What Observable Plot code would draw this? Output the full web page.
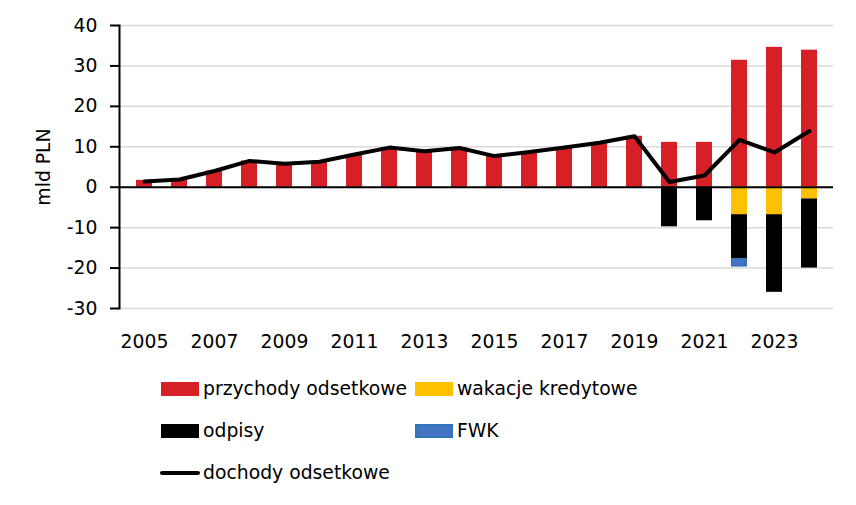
<!DOCTYPE html>
<html><head><meta charset="utf-8">
<script src="https://cdn.jsdelivr.net/npm/d3@7"></script>
<script src="https://cdn.jsdelivr.net/npm/@observablehq/plot@0.6"></script>
<style>
body{margin:0;background:#fff;font-family:"DejaVu Sans",sans-serif;}
#wrap{position:relative;width:856px;height:505px;}
.lg{position:absolute;display:flex;align-items:center;font-size:18.8px;color:#000;white-space:nowrap;}
.sw{width:38px;height:14px;margin-right:4px;box-sizing:border-box;}
.ln{width:40px;height:4px;background:#000;border-radius:2px;margin-right:3px;}
</style></head>
<body><div id="wrap"><div id="chart"></div>
<div class="lg" style="left:161px;top:378px;"><div class="sw" style="background:#d71f26"></div>przychody odsetkowe</div>
<div class="lg" style="left:415px;top:378px;"><div class="sw" style="background:#ffc000"></div>wakacje kredytowe</div>
<div class="lg" style="left:161px;top:420px;"><div class="sw" style="background:#000"></div>odpisy</div>
<div class="lg" style="left:415px;top:420px;"><div class="sw" style="background:#4472c4;border:2px solid #2e75b6"></div>FWK</div>
<div class="lg" style="left:160px;top:462px;"><div class="ln"></div>dochody odsetkowe</div>
</div>
<script>
const years = [2005,2006,2007,2008,2009,2010,2011,2012,2013,2014,2015,2016,2017,2018,2019,2020,2021,2022,2023,2024];
const przychody = [1.7,2.0,4.0,6.5,5.8,6.3,8.1,9.8,8.9,9.7,7.7,8.7,9.8,11.0,12.6,11.1,11.1,31.4,34.6,33.9];
const wakacje = [0,0,0,0,0,0,0,0,0,0,0,0,0,0,0,0,0,-6.8,-6.8,-2.9];
const odpisy = [0,0,0,0,0,0,0,0,0,0,0,0,0,0,0,-9.8,-8.3,-10.9,-19.2,-17.1];
const fwk = [0,0,0,0,0,0,0,0,0,0,0,0,0,0,0,0,0,-2.0,0,0];
const dochody = [1.4,1.9,4.0,6.5,5.8,6.3,8.1,9.8,8.9,9.7,7.7,8.7,9.8,11.0,12.6,1.3,2.9,11.7,8.6,13.9];
const yTicks = [-30,-20,-10,0,10,20,30,40];
const xTicks = years.filter(y => y % 2 === 1);

const seriesNames = ["przychody odsetkowe","wakacje kredytowe","odpisy","FWK"];
const seriesColors = ["#d71f26","#ffc000","#000000","#4472c4"];
const seriesValues = [przychody, wakacje, odpisy, fwk];
const rows = [];
seriesNames.forEach((s, si) => years.forEach((yr, i) => {
  if (seriesValues[si][i] !== 0) rows.push({year: yr, value: seriesValues[si][i], series: s});
}));
const stackOpts = {x: "year", y: "value", z: "series", order: seriesNames};

const chart = Plot.plot({
  width: 856, height: 360,
  marginLeft: 119, marginRight: 23, marginTop: 25, marginBottom: 52,
  style: {fontFamily: "DejaVu Sans, sans-serif", fontSize: "18.8px", color: "#000", background: "#fff"},
  x: {type: "band", domain: years, paddingInner: 0.55, paddingOuter: 0.275},
  y: {domain: [-30, 40]},
  color: {domain: seriesNames, range: seriesColors},
  marks: [
    Plot.gridY(yTicks, {stroke: "#d9d9d9", strokeOpacity: 1, strokeWidth: 1.5}),
    Plot.barY(rows, Plot.stackY({...stackOpts, fill: "series"})),
    Plot.barY(rows, Plot.filter(d => d.series === "FWK", Plot.stackY({...stackOpts, fill: "none", stroke: "#2e75b6", strokeWidth: 1.5, inset: 0.75}))),
    Plot.ruleY([0], {stroke: "#000", strokeWidth: 2}),
    Plot.lineY(years, {x: years, y: dochody, stroke: "#000", strokeWidth: 4, strokeLinejoin: "round", strokeLinecap: "round"}),
    Plot.axisY(yTicks, {tickSize: 9, tickPadding: 13, tickFormat: d => String(d), stroke: "#000", strokeWidth: 2, strokeOpacity: 1, label: null, fontSize: "18.8px"}),
    Plot.frame({anchor: "left", stroke: "#000", strokeWidth: 2}),
    Plot.axisX(xTicks, {tickSize: 0, tickPadding: 26, tickFormat: d => String(d), label: null, fontSize: "18.8px"}),
    Plot.text(["mld PLN"], {frameAnchor: "left", dx: -76, rotate: -90, fontSize: "18.8px", textAnchor: "middle"})
  ]
});
document.getElementById("chart").appendChild(chart);
</script></body></html>
